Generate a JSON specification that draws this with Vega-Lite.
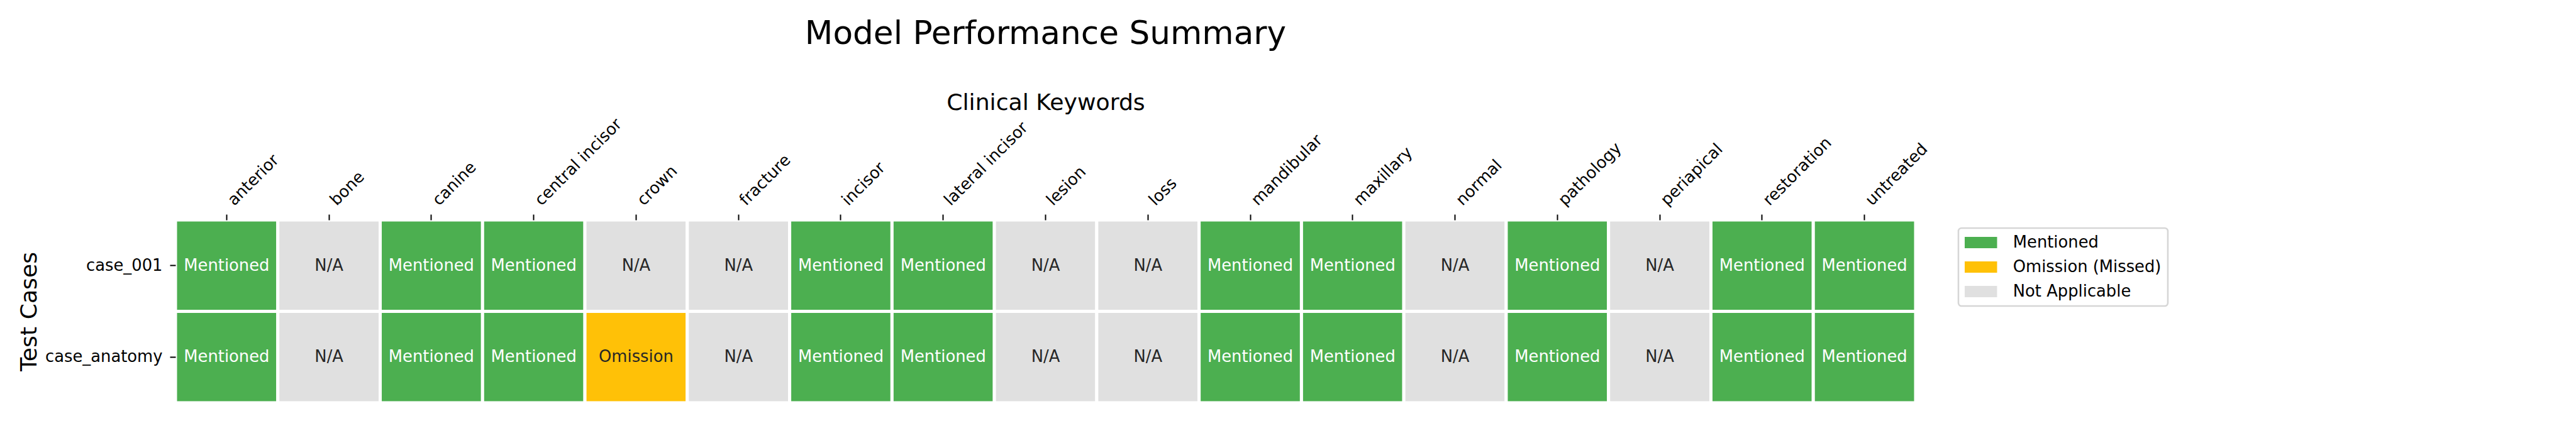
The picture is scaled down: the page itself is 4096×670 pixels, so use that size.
{
  "$schema": "https://vega.github.io/schema/vega-lite/v6.json",
  "width": 2767,
  "height": 291,
  "autosize": {"type": "none"},
  "padding": {"left": 279, "top": 350, "right": 1050, "bottom": 29},
  "background": "white",
  "title": {
    "text": "Model Performance Summary",
    "fontSize": 51.7,
    "font": "DejaVu Sans",
    "fontWeight": "normal",
    "color": "black",
    "anchor": "middle",
    "baseline": "alphabetic",
    "offset": 23
  },
  "data": {
    "values": [
      {"case": "case_001", "keyword": "anterior", "status": "Mentioned", "label": "Mentioned"},
      {"case": "case_001", "keyword": "bone", "status": "Not Applicable", "label": "N/A"},
      {"case": "case_001", "keyword": "canine", "status": "Mentioned", "label": "Mentioned"},
      {"case": "case_001", "keyword": "central incisor", "status": "Mentioned", "label": "Mentioned"},
      {"case": "case_001", "keyword": "crown", "status": "Not Applicable", "label": "N/A"},
      {"case": "case_001", "keyword": "fracture", "status": "Not Applicable", "label": "N/A"},
      {"case": "case_001", "keyword": "incisor", "status": "Mentioned", "label": "Mentioned"},
      {"case": "case_001", "keyword": "lateral incisor", "status": "Mentioned", "label": "Mentioned"},
      {"case": "case_001", "keyword": "lesion", "status": "Not Applicable", "label": "N/A"},
      {"case": "case_001", "keyword": "loss", "status": "Not Applicable", "label": "N/A"},
      {"case": "case_001", "keyword": "mandibular", "status": "Mentioned", "label": "Mentioned"},
      {"case": "case_001", "keyword": "maxillary", "status": "Mentioned", "label": "Mentioned"},
      {"case": "case_001", "keyword": "normal", "status": "Not Applicable", "label": "N/A"},
      {"case": "case_001", "keyword": "pathology", "status": "Mentioned", "label": "Mentioned"},
      {"case": "case_001", "keyword": "periapical", "status": "Not Applicable", "label": "N/A"},
      {"case": "case_001", "keyword": "restoration", "status": "Mentioned", "label": "Mentioned"},
      {"case": "case_001", "keyword": "untreated", "status": "Mentioned", "label": "Mentioned"},
      {"case": "case_anatomy", "keyword": "anterior", "status": "Mentioned", "label": "Mentioned"},
      {"case": "case_anatomy", "keyword": "bone", "status": "Not Applicable", "label": "N/A"},
      {"case": "case_anatomy", "keyword": "canine", "status": "Mentioned", "label": "Mentioned"},
      {"case": "case_anatomy", "keyword": "central incisor", "status": "Mentioned", "label": "Mentioned"},
      {"case": "case_anatomy", "keyword": "crown", "status": "Omission (Missed)", "label": "Omission"},
      {"case": "case_anatomy", "keyword": "fracture", "status": "Not Applicable", "label": "N/A"},
      {"case": "case_anatomy", "keyword": "incisor", "status": "Mentioned", "label": "Mentioned"},
      {"case": "case_anatomy", "keyword": "lateral incisor", "status": "Mentioned", "label": "Mentioned"},
      {"case": "case_anatomy", "keyword": "lesion", "status": "Not Applicable", "label": "N/A"},
      {"case": "case_anatomy", "keyword": "loss", "status": "Not Applicable", "label": "N/A"},
      {"case": "case_anatomy", "keyword": "mandibular", "status": "Mentioned", "label": "Mentioned"},
      {"case": "case_anatomy", "keyword": "maxillary", "status": "Mentioned", "label": "Mentioned"},
      {"case": "case_anatomy", "keyword": "normal", "status": "Not Applicable", "label": "N/A"},
      {"case": "case_anatomy", "keyword": "pathology", "status": "Mentioned", "label": "Mentioned"},
      {"case": "case_anatomy", "keyword": "periapical", "status": "Not Applicable", "label": "N/A"},
      {"case": "case_anatomy", "keyword": "restoration", "status": "Mentioned", "label": "Mentioned"},
      {"case": "case_anatomy", "keyword": "untreated", "status": "Mentioned", "label": "Mentioned"}
    ]
  },
  "encoding": {
    "x": {
      "field": "keyword",
      "type": "nominal",
      "sort": ["anterior", "bone", "canine", "central incisor", "crown", "fracture", "incisor", "lateral incisor", "lesion", "loss", "mandibular", "maxillary", "normal", "pathology", "periapical", "restoration", "untreated"],
      "scale": {"paddingInner": 0, "paddingOuter": 0},
      "axis": {
        "orient": "top",
        "title": "Clinical Keywords",
        "titleFontSize": 36.2,
        "titleFont": "DejaVu Sans",
        "titleFontWeight": "normal",
        "titleColor": "black",
        "titleY": -176,
        "titleBaseline": "alphabetic",
        "labelAngle": -45,
        "labelAlign": "left",
        "labelBaseline": "alphabetic",
        "labelFontSize": 25.8,
        "labelFont": "DejaVu Sans",
        "labelColor": "black",
        "labelPadding": 13,
        "labelOffset": 12,
        "labelOverlap": false,
        "labelLimit": 0,
        "ticks": true,
        "tickSize": 9,
        "tickWidth": 2,
        "tickColor": "black",
        "domain": false,
        "grid": false
      }
    },
    "y": {
      "field": "case",
      "type": "nominal",
      "sort": ["case_001", "case_anatomy"],
      "scale": {"paddingInner": 0, "paddingOuter": 0},
      "axis": {
        "title": "Test Cases",
        "titleFontSize": 36.2,
        "titleFont": "DejaVu Sans",
        "titleFontWeight": "normal",
        "titleColor": "black",
        "titleX": -222,
        "titleY": 145.5,
        "titleAngle": 270,
        "titleAlign": "center",
        "titleBaseline": "alphabetic",
        "labelFontSize": 25.8,
        "labelFont": "DejaVu Sans",
        "labelColor": "black",
        "labelPadding": 12,
        "labelAngle": 0,
        "labelLimit": 0,
        "ticks": true,
        "tickSize": 9,
        "tickWidth": 2,
        "tickColor": "black",
        "domain": false,
        "grid": false
      }
    }
  },
  "layer": [
    {
      "mark": {"type": "rect", "stroke": "white", "strokeWidth": 5, "opacity": 1},
      "encoding": {
        "color": {
          "field": "status",
          "type": "nominal",
          "scale": {"domain": ["Mentioned", "Omission (Missed)", "Not Applicable"], "range": ["#4CAF50", "#FFC107", "#E0E0E0"]},
          "legend": {
            "title": null,
            "orient": "none",
            "legendX": 2835,
            "legendY": 13,
            "symbolType": "M-2,-0.7H2V0.7H-2Z",
            "symbolSize": 663,
            "symbolOffset": 12.75,
            "symbolStrokeWidth": 0,
            "symbolOpacity": 1,
            "labelFontSize": 25.8,
            "labelFont": "DejaVu Sans",
            "labelColor": "black",
            "labelOffset": 38,
            "labelLimit": 0,
            "rowPadding": 13,
            "padding": 10,
            "strokeColor": "#d6d6d6",
            "fillColor": "white",
            "cornerRadius": 5
          }
        }
      }
    },
    {
      "mark": {"type": "text", "fontSize": 25.8, "font": "DejaVu Sans", "align": "center", "baseline": "middle"},
      "encoding": {
        "text": {"field": "label", "type": "nominal"},
        "color": {"condition": {"test": "datum.status === 'Mentioned'", "value": "white"}, "value": "#262626"}
      }
    }
  ],
  "config": {
    "view": {"stroke": null},
    "legend": {"strokeWidth": 2.6}
  }
}
